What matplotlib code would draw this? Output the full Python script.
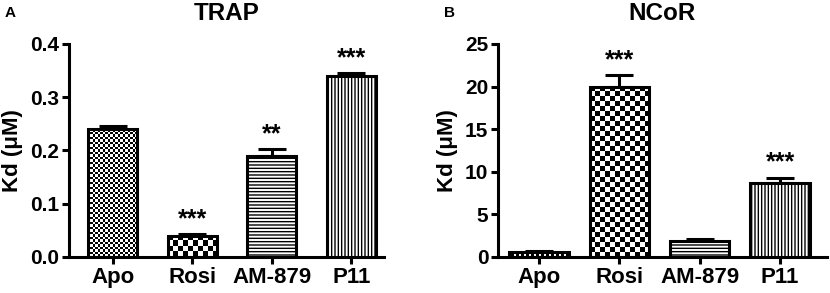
import numpy as np
import matplotlib
matplotlib.use('Agg')
import matplotlib.pyplot as plt

plt.rcParams['font.family'] = ['Liberation Sans', 'DejaVu Sans']
plt.rcParams['font.weight'] = 'bold'
plt.rcParams['hatch.linewidth'] = 1.0

groups = ['Apo', 'Rosi', 'AM-879', 'P11']

trap_kd = [0.24, 0.04, 0.19, 0.34]
trap_err = [0.005, 0.003, 0.012, 0.005]
trap_stars = ['', '***', '**', '***']

ncor_kd = [0.6, 20.0, 1.9, 8.7]
ncor_err = [0.1, 1.3, 0.2, 0.6]
ncor_stars = ['', '***', '', '***']

# fill style per group: ('checker', cell px) or hatch string
fills = [('checker', 2.5), ('checker', 5), ('hatch', '-----'), ('hatch', '|||||')]


def checker_fill(ax, bar, cell):
    """ Paint a checkerboard inside a bar, clipped to it. """
    ax.figure.canvas.draw()
    bb = bar.get_window_extent()
    nx = max(1, int(round(bb.width / cell)))
    ny = max(1, int(round(bb.height / cell)))
    board = (np.add.outer(np.arange(ny), np.arange(nx)) % 2).astype(float)
    x0, y0 = bar.get_x(), bar.get_y()
    im = ax.imshow(board, cmap='gray', extent=(x0, x0 + bar.get_width(), y0, y0 + bar.get_height()),
                   interpolation='nearest', aspect='auto', zorder=2, vmin=0, vmax=1)
    im.set_clip_path(bar)


def panel(ax, values, errs, stars, ylim, yticks, yticklabels, title, width, xlim):
    x = np.arange(len(groups))
    ax.set_xlim(xlim)
    ax.set_ylim(ylim)
    lower = np.zeros(len(errs))
    ax.errorbar(x, values, yerr=[lower, errs], fmt='none', ecolor='black',
                elinewidth=2.2, capsize=10, capthick=2.2, zorder=1)
    bars = ax.bar(x, values, width=width, color='white', edgecolor='black',
                  linewidth=2.2, zorder=3)
    for b, f in zip(bars, fills):
        if f[0] == 'hatch':
            b.set_hatch(f[1])
    for b, f in zip(bars, fills):
        if f[0] == 'checker':
            checker_fill(ax, b, f[1])
            b.set_facecolor('none')
    for xi, v, e, s in zip(x, values, errs, stars):
        if s:
            ax.text(xi, v + e + (ylim[1] - ylim[0]) * 0.015, s, ha='center', va='bottom',
                    fontsize=18, fontweight='bold')
    ax.set_xlim(xlim)
    ax.set_ylim(ylim)
    ax.set_yticks(yticks)
    ax.set_yticklabels(yticklabels, fontsize=15, fontweight='bold')
    ax.set_xticks(x)
    ax.set_xticklabels(groups, fontsize=16, fontweight='bold')
    ax.set_ylabel('Kd (\u03bcM)', fontsize=16, fontweight='bold', labelpad=5)
    ax.set_title(title, fontsize=17.5, fontweight='bold', pad=17)
    for sp in ['top', 'right']:
        ax.spines[sp].set_visible(False)
    for sp in ['left', 'bottom']:
        ax.spines[sp].set_linewidth(2.2)
    ax.tick_params(width=2.2, length=5, direction='out', pad=2)


fig = plt.figure(figsize=(8.3, 2.93), dpi=100)
ax1 = fig.add_axes([0.083, 0.123, 0.3795, 0.727])
ax2 = fig.add_axes([0.600, 0.123, 0.396, 0.727])

panel(ax1, trap_kd, trap_err, trap_stars, (0, 0.4), [0, 0.1, 0.2, 0.3, 0.4],
      ['0.0', '0.1', '0.2', '0.3', '0.4'], 'TRAP', 0.62, (-0.55, 3.41))
panel(ax2, ncor_kd, ncor_err, ncor_stars, (0, 25), [0, 5, 10, 15, 20, 25],
      ['0', '5', '10', '15', '20', '25'], 'NCoR', 0.74, (-0.51, 3.58))

fig.text(0.006, 0.955, 'A', fontsize=11, fontweight='bold', va='center', ha='left')
fig.text(0.535, 0.955, 'B', fontsize=11, fontweight='bold', va='center', ha='left')

fig.savefig('out.png', dpi=100)
